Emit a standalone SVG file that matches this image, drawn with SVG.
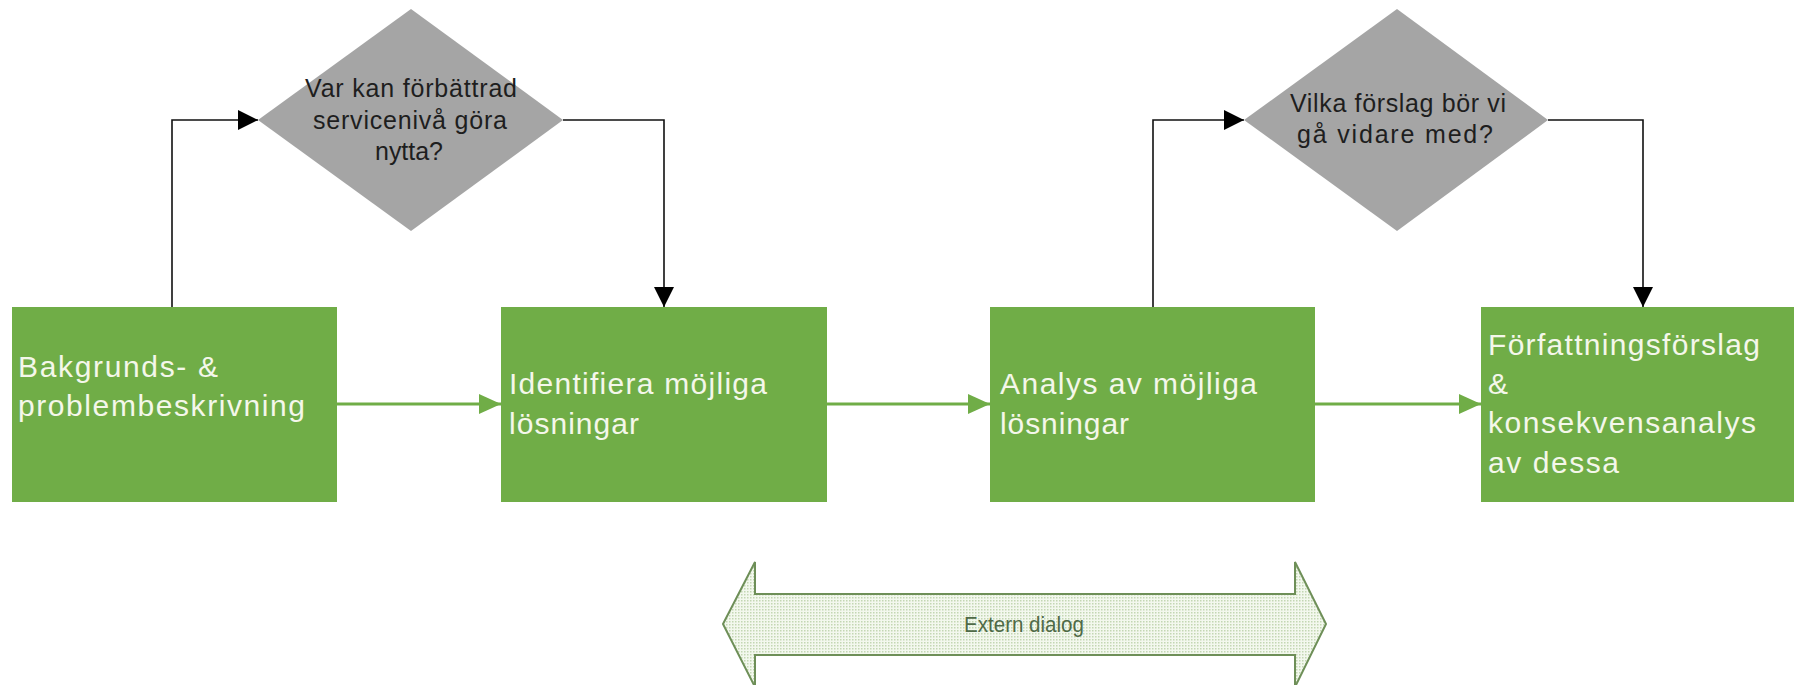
<svg xmlns="http://www.w3.org/2000/svg" width="1794" height="685" viewBox="0 0 1794 685">
<style>
.box{fill:#70AD47}
.btxt{font-family:"Liberation Sans",Arial,sans-serif;font-size:30px;fill:#F4F7EA}
.dia{fill:#A5A5A5}
.dtxt{font-family:"Liberation Sans",Arial,sans-serif;font-size:25px;fill:#1E1E1E;text-anchor:middle}
.blk{fill:none;stroke:#111;stroke-width:1.6}
.grn{fill:none;stroke:#70AD47;stroke-width:3}
.ext{font-family:"Liberation Sans",Arial,sans-serif;font-size:22px;fill:#4F6A47;text-anchor:middle}
</style>
<defs>
<marker id="ah" viewBox="0 0 20 20" refX="20" refY="10" markerWidth="20" markerHeight="20" markerUnits="userSpaceOnUse" orient="auto">
<path d="M0,0 L20,10 L0,20 Z" fill="#000"/>
</marker>
<marker id="gh" viewBox="0 0 22 20" refX="22" refY="10" markerWidth="22" markerHeight="20" markerUnits="userSpaceOnUse" orient="auto">
<path d="M0,0 L22,10 L0,20 Z" fill="#70AD47"/>
</marker>
<pattern id="dots" width="3" height="3" patternUnits="userSpaceOnUse">
<rect width="3" height="3" fill="#F3F8EE"/>
<rect width="1.5" height="1.5" fill="#C3D7B3"/>
</pattern>
</defs>
<rect width="1794" height="685" fill="#fff"/>

<g id="connectors">
<path class="blk" d="M172,307 V120 H258" marker-end="url(#ah)"/>
<path class="blk" d="M563,120 H664 V307" marker-end="url(#ah)"/>
<path class="blk" d="M1153,307 V120 H1244" marker-end="url(#ah)"/>
<path class="blk" d="M1548,120 H1643 V307" marker-end="url(#ah)"/>
<path class="grn" d="M337,404 H501" marker-end="url(#gh)"/>
<path class="grn" d="M827,404 H990" marker-end="url(#gh)"/>
<path class="grn" d="M1315,404 H1481" marker-end="url(#gh)"/>
</g>

<g id="box1">
<rect class="box" x="12" y="307" width="325" height="195"/>
<text class="btxt" x="18" y="377" textLength="200" lengthAdjust="spacing">Bakgrunds- &amp;</text>
<text class="btxt" x="18" y="416" textLength="287" lengthAdjust="spacing">problembeskrivning</text>
</g>

<g id="box2">
<rect class="box" x="501" y="307" width="326" height="195"/>
<text class="btxt" x="509" y="394" textLength="258" lengthAdjust="spacing">Identifiera möjliga</text>
<text class="btxt" x="509" y="434" textLength="130" lengthAdjust="spacing">lösningar</text>
</g>

<g id="box3">
<rect class="box" x="990" y="307" width="325" height="195"/>
<text class="btxt" x="1000" y="394" textLength="257" lengthAdjust="spacing">Analys av möjliga</text>
<text class="btxt" x="1000" y="434" textLength="129" lengthAdjust="spacing">lösningar</text>
</g>

<g id="box4">
<rect class="box" x="1481" y="307" width="313" height="195"/>
<text class="btxt" x="1488" y="355" textLength="272" lengthAdjust="spacing">Författningsförslag</text>
<text class="btxt" x="1488" y="394">&amp;</text>
<text class="btxt" x="1488" y="433" textLength="268" lengthAdjust="spacing">konsekvensanalys</text>
<text class="btxt" x="1488" y="473" textLength="131" lengthAdjust="spacing">av dessa</text>
</g>

<g id="decision1">
<polygon class="dia" points="411,9 563,120 411,231 258,120"/>
<text class="dtxt" x="411" y="97" textLength="212" lengthAdjust="spacing">Var kan förbättrad</text>
<text class="dtxt" x="410" y="129" textLength="194" lengthAdjust="spacing">servicenivå göra</text>
<text class="dtxt" x="409" y="160" textLength="68" lengthAdjust="spacing">nytta?</text>
</g>

<g id="decision2">
<polygon class="dia" points="1397,9 1548,120 1397,231 1244,120"/>
<text class="dtxt" x="1398" y="112" textLength="216" lengthAdjust="spacing">Vilka förslag bör vi</text>
<text class="dtxt" x="1395" y="143" textLength="196" lengthAdjust="spacing">gå vidare med?</text>
</g>

<g id="extern-dialog">
<polygon points="723,624 755,562 755,594 1295,594 1295,562 1326,624 1295,687 1295,655 755,655 755,687" fill="url(#dots)" stroke="#6E8F58" stroke-width="2"/>
<text class="ext" x="1024" y="632" textLength="120" lengthAdjust="spacingAndGlyphs">Extern dialog</text>
</g>
</svg>
